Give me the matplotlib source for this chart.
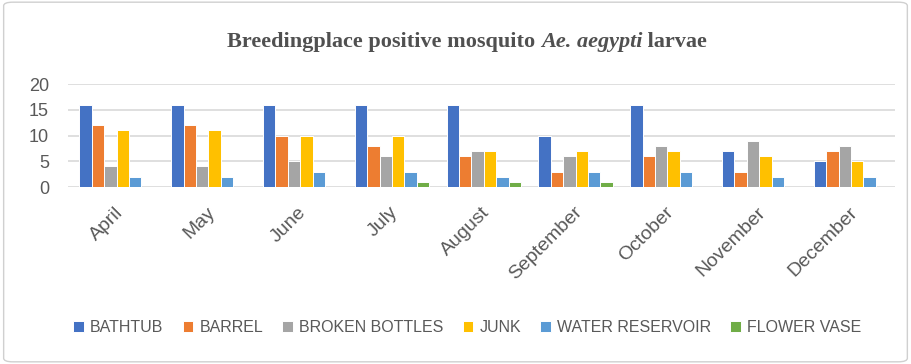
import numpy as np
import matplotlib.pyplot as plt
from matplotlib.patches import FancyBboxPatch

months = ['April', 'May', 'June', 'July', 'August', 'September',
          'October', 'November', 'December']
bathtub = [16, 16, 16, 16, 16, 10, 16, 7, 5]
barrel = [12, 12, 10, 8, 6, 3, 6, 3, 7]
broken_bottles = [4, 4, 5, 6, 7, 6, 8, 9, 8]
junk = [11, 11, 10, 10, 7, 7, 7, 6, 5]
water_reservoir = [2, 2, 3, 3, 2, 3, 3, 2, 2]
flower_vase = [0, 0, 0, 1, 1, 1, 0, 0, 0]

series = [('BATHTUB', bathtub, '#4472C4'),
          ('BARREL', barrel, '#ED7D31'),
          ('BROKEN BOTTLES', broken_bottles, '#A5A5A5'),
          ('JUNK', junk, '#FFC000'),
          ('WATER RESERVOIR', water_reservoir, '#5B9BD5'),
          ('FLOWER VASE', flower_vase, '#70AD47')]

plt.rcParams['font.family'] = ['Liberation Sans', 'DejaVu Sans']

fig = plt.figure(figsize=(9.11, 3.64), dpi=100)
fig.patches.append(FancyBboxPatch((0.004, 0.006), 0.992, 0.988,
                                  boxstyle='round,pad=0,rounding_size=0.01',
                                  transform=fig.transFigure, fc='white',
                                  ec='#d0d0d0', lw=1, zorder=-5))
ax = fig.add_axes([0.075, 0.486, 0.907, 0.283])
ax.patch.set_alpha(0)

x = np.arange(len(months))
w = 0.135
for i, (name, vals, col) in enumerate(series):
    ax.bar(x - 0.4 + w * (i + 0.5) + 0.02, vals, w, color=col,
           edgecolor='white', linewidth=0.7, label=name, zorder=3)

ax.set_xlim(-0.5, len(months) - 0.5)
ax.set_ylim(0, 20)
ax.set_yticks([0, 5, 10, 15, 20])
ax.grid(axis='y', color='#d9d9d9', linewidth=1.2, zorder=0)
for s in ax.spines.values():
    s.set_visible(False)
ax.tick_params(axis='both', length=0, colors='#595959')
ax.tick_params(axis='y', labelsize=13, pad=14)
ax.tick_params(axis='x', pad=12)
ax.set_xticks(x)
ax.set_xticklabels(months, rotation=45, ha='right', rotation_mode='anchor',
                   fontsize=14, color='#595959')
for lbl in ax.get_xticklabels():
    lbl.set_x(lbl.get_position()[0] + 0.12)

# title with italic species name
fig.canvas.draw()
r = fig.canvas.get_renderer()
parts = [('Breedingplace positive mosquito ', 'normal'),
         ('Ae. aegypti', 'italic'),
         (' larvae', 'normal')]
texts = []
widths = []
for t, st in parts:
    tx = fig.text(0, 0.885, t, fontsize=16, fontweight='bold', style=st,
                  family='Liberation Serif', color='#505050', va='center')
    texts.append(tx)
    widths.append(tx.get_window_extent(r).width / fig.bbox.width)
xpos = 0.513 - sum(widths) / 2
for tx, wd in zip(texts, widths):
    tx.set_x(xpos)
    xpos += wd

fig.legend(loc='center', bbox_to_anchor=(0.513, 0.1), ncol=6, frameon=False,
           fontsize=11.5, handlelength=0.65, handleheight=0.65,
           handletextpad=0.4, columnspacing=1.2, labelcolor='#595959')

fig.savefig('out.png', dpi=100)
